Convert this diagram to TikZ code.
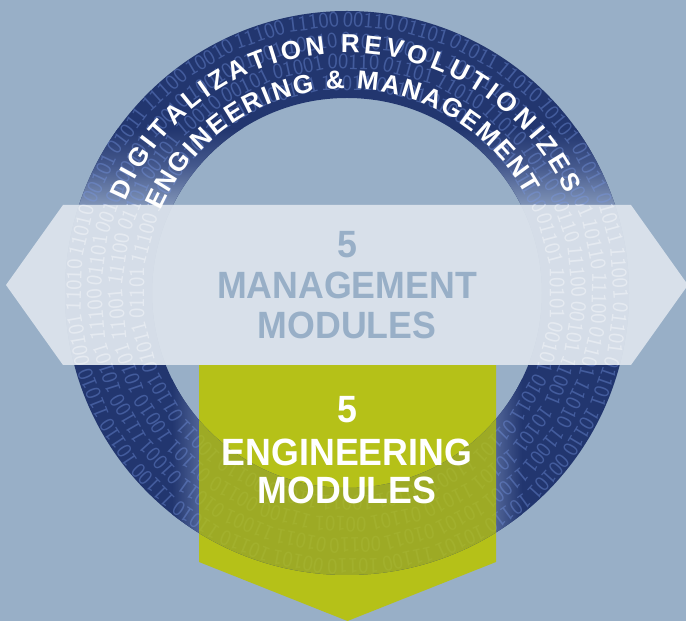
\documentclass[tikz,border=0pt]{standalone}
\usepackage{fontspec}
\setmainfont{Liberation Sans}
\definecolor{bgc}{HTML}{98AFC7}
\definecolor{navy}{HTML}{22366F}
\definecolor{grn}{HTML}{B5C118}
\definecolor{hexc}{HTML}{DFE6EE}
\definecolor{digc}{HTML}{7A9AE8}
\definecolor{fademid}{HTML}{465A8E}
\definecolor{fadelight}{HTML}{8094B7}
\definecolor{sideshade}{HTML}{4F6396}
\newcommand\arcfont{\fontsize{26}{26}\selectfont\bfseries}
\tikzset{
  digit/.style={font=\fontsize{22}{22}\selectfont\sffamily, inner sep=0pt, anchor=center},
  bigtext/.style={font=\fontsize{38}{38}\selectfont\bfseries, inner sep=0pt},
  arcletter/.style={font=\arcfont, text=white, inner sep=0pt, anchor=base},
}
\pgfmathdeclarerandomlist{bits}{{01101}{10010}{11010}{00110}{10101}{01011}{11001}{10110}{01001}{11100}{00101}{10011}}
\newcommand\ringdigits[1]{%
  \pgfmathsetseed{4242}%
  \foreach \r/\n in {210/24,231/26,252/29,273/31}{%
    \foreach \i in {1,...,\n}{%
      \pgfmathsetmacro\ang{360/\n*\i+\r/7}%
      \pgfmathrandomitem{\bs}{bits}%
      \node[digit,#1,rotate=\ang-90] at ([shift={(\ang:\r pt)}]C) {\bs};
    }}}
% #1 radius, #2 start angle, #3 end angle, #4 letter/width(em) pairs
\newcommand\arctext[4]{%
  \gdef\atsum{0}\gdef\atn{0}%
  \foreach \ch/\cw in {#4}{%
    \pgfmathsetmacro\tmp{\atsum+\cw*26}\xdef\atsum{\tmp}%
    \pgfmathsetmacro\tmp{\atn+1}\xdef\atn{\tmp}}%
  \pgfmathsetmacro\attrack{((#2-#3)*pi/180*#1 - \atsum)/(\atn-1)}%
  \xdef\atcur{#2}%
  \foreach \ch/\cw in {#4}{%
    \pgfmathsetmacro\chw{\cw*26}%
    \pgfmathsetmacro\atmid{\atcur - (\chw/2)/#1*180/pi}%
    \pgfmathsetmacro\tmp{\atcur - (\chw+\attrack)/#1*180/pi}%
    \xdef\atcur{\tmp}%
    \node[arcletter, rotate=\atmid-90] at ([shift={(\atmid:#1 pt)}]C) {\ch};
  }}
\begin{document}
\begin{tikzpicture}[x=1pt,y=1pt]
\useasboundingbox (0,0) rectangle (686,621);
\fill[bgc] (0,0) rectangle (686,621);
\coordinate (C) at (347,328);
% green pentagon
\fill[grn] (199,256) -- (496,256) -- (496,59) -- (347.5,0) -- (199,59) -- cycle;
% ring
\fill[navy, even odd rule] (C) circle[radius=282pt] (C) circle[radius=195pt];
\begin{scope}[even odd rule]
  \clip (C) circle[radius=282pt] (C) circle[radius=195pt];
  \shade[top color=navy, bottom color=fademid] (0,454) rectangle (686,492);
  \shade[top color=fademid, bottom color=fadelight] (0,416) rectangle (686,454.5);
  \fill[fadelight] (0,256) rectangle (686,416.5);
  \shade[left color=navy, right color=sideshade] (172,0) rectangle (199,256);
  \shade[left color=sideshade, right color=navy] (496,0) rectangle (522,256);
\end{scope}
% blue digits outside hexagon band
\begin{scope}
  \clip (0,0) rectangle (686,256) (0,416) rectangle (686,621);
  \ringdigits{text=digc, text opacity=0.38}
\end{scope}
% olive overlay where ring crosses green
\begin{scope}[even odd rule]
  \clip (C) circle[radius=282pt] (C) circle[radius=195pt];
  \fill[grn, opacity=0.84] (199,256) -- (496,256) -- (496,59) -- (347.5,0) -- (199,59) -- cycle;
\end{scope}
% hexagon
\fill[hexc, opacity=0.9] (6,336) -- (63,416) -- (631,416) -- (688,336) -- (631,256) -- (63,256) -- cycle;
\begin{scope}
  \clip (0,256) rectangle (686,416);
  \ringdigits{text=white, text opacity=0.4}
\end{scope}
% curved texts
\arctext{240}{157.5}{24.3}{D/.722,I/.278,G/.778,I/.278,T/.611,A/.722,L/.611,I/.278,Z/.611,A/.722,T/.611,I/.278,O/.778,N/.722,\ /.278,R/.722,E/.667,V/.667,O/.778,L/.611,U/.722,T/.611,I/.278,O/.778,N/.722,I/.278,Z/.611,E/.667,S/.667}
\arctext{204}{156.2}{28.8}{E/.667,N/.722,G/.778,I/.278,N/.722,E/.667,E/.667,R/.722,I/.278,N/.722,G/.778,\ /.278,\&/.722,\ /.278,M/.833,A/.722,N/.722,A/.722,G/.778,E/.667,M/.833,E/.667,N/.722,T/.611}
% hexagon text
\node[bigtext, text=bgc] (m5) at (347,376) {\scalebox{0.94}[1]{5}};
\node[bigtext, text=bgc] (m1) at (347,336) {\scalebox{0.94}[1]{MANAGEMENT}};
\node[bigtext, text=bgc] (m2) at (347,296) {\scalebox{0.94}[1]{MODULES}};
% green text
\node[bigtext, text=white] (e5) at (347,211) {\scalebox{0.94}[1]{5}};
\node[bigtext, text=white] (e1) at (347,169) {\scalebox{0.94}[1]{ENGINEERING}};
\node[bigtext, text=white] (e2) at (347,131) {\scalebox{0.94}[1]{MODULES}};
\end{tikzpicture}
\end{document}
